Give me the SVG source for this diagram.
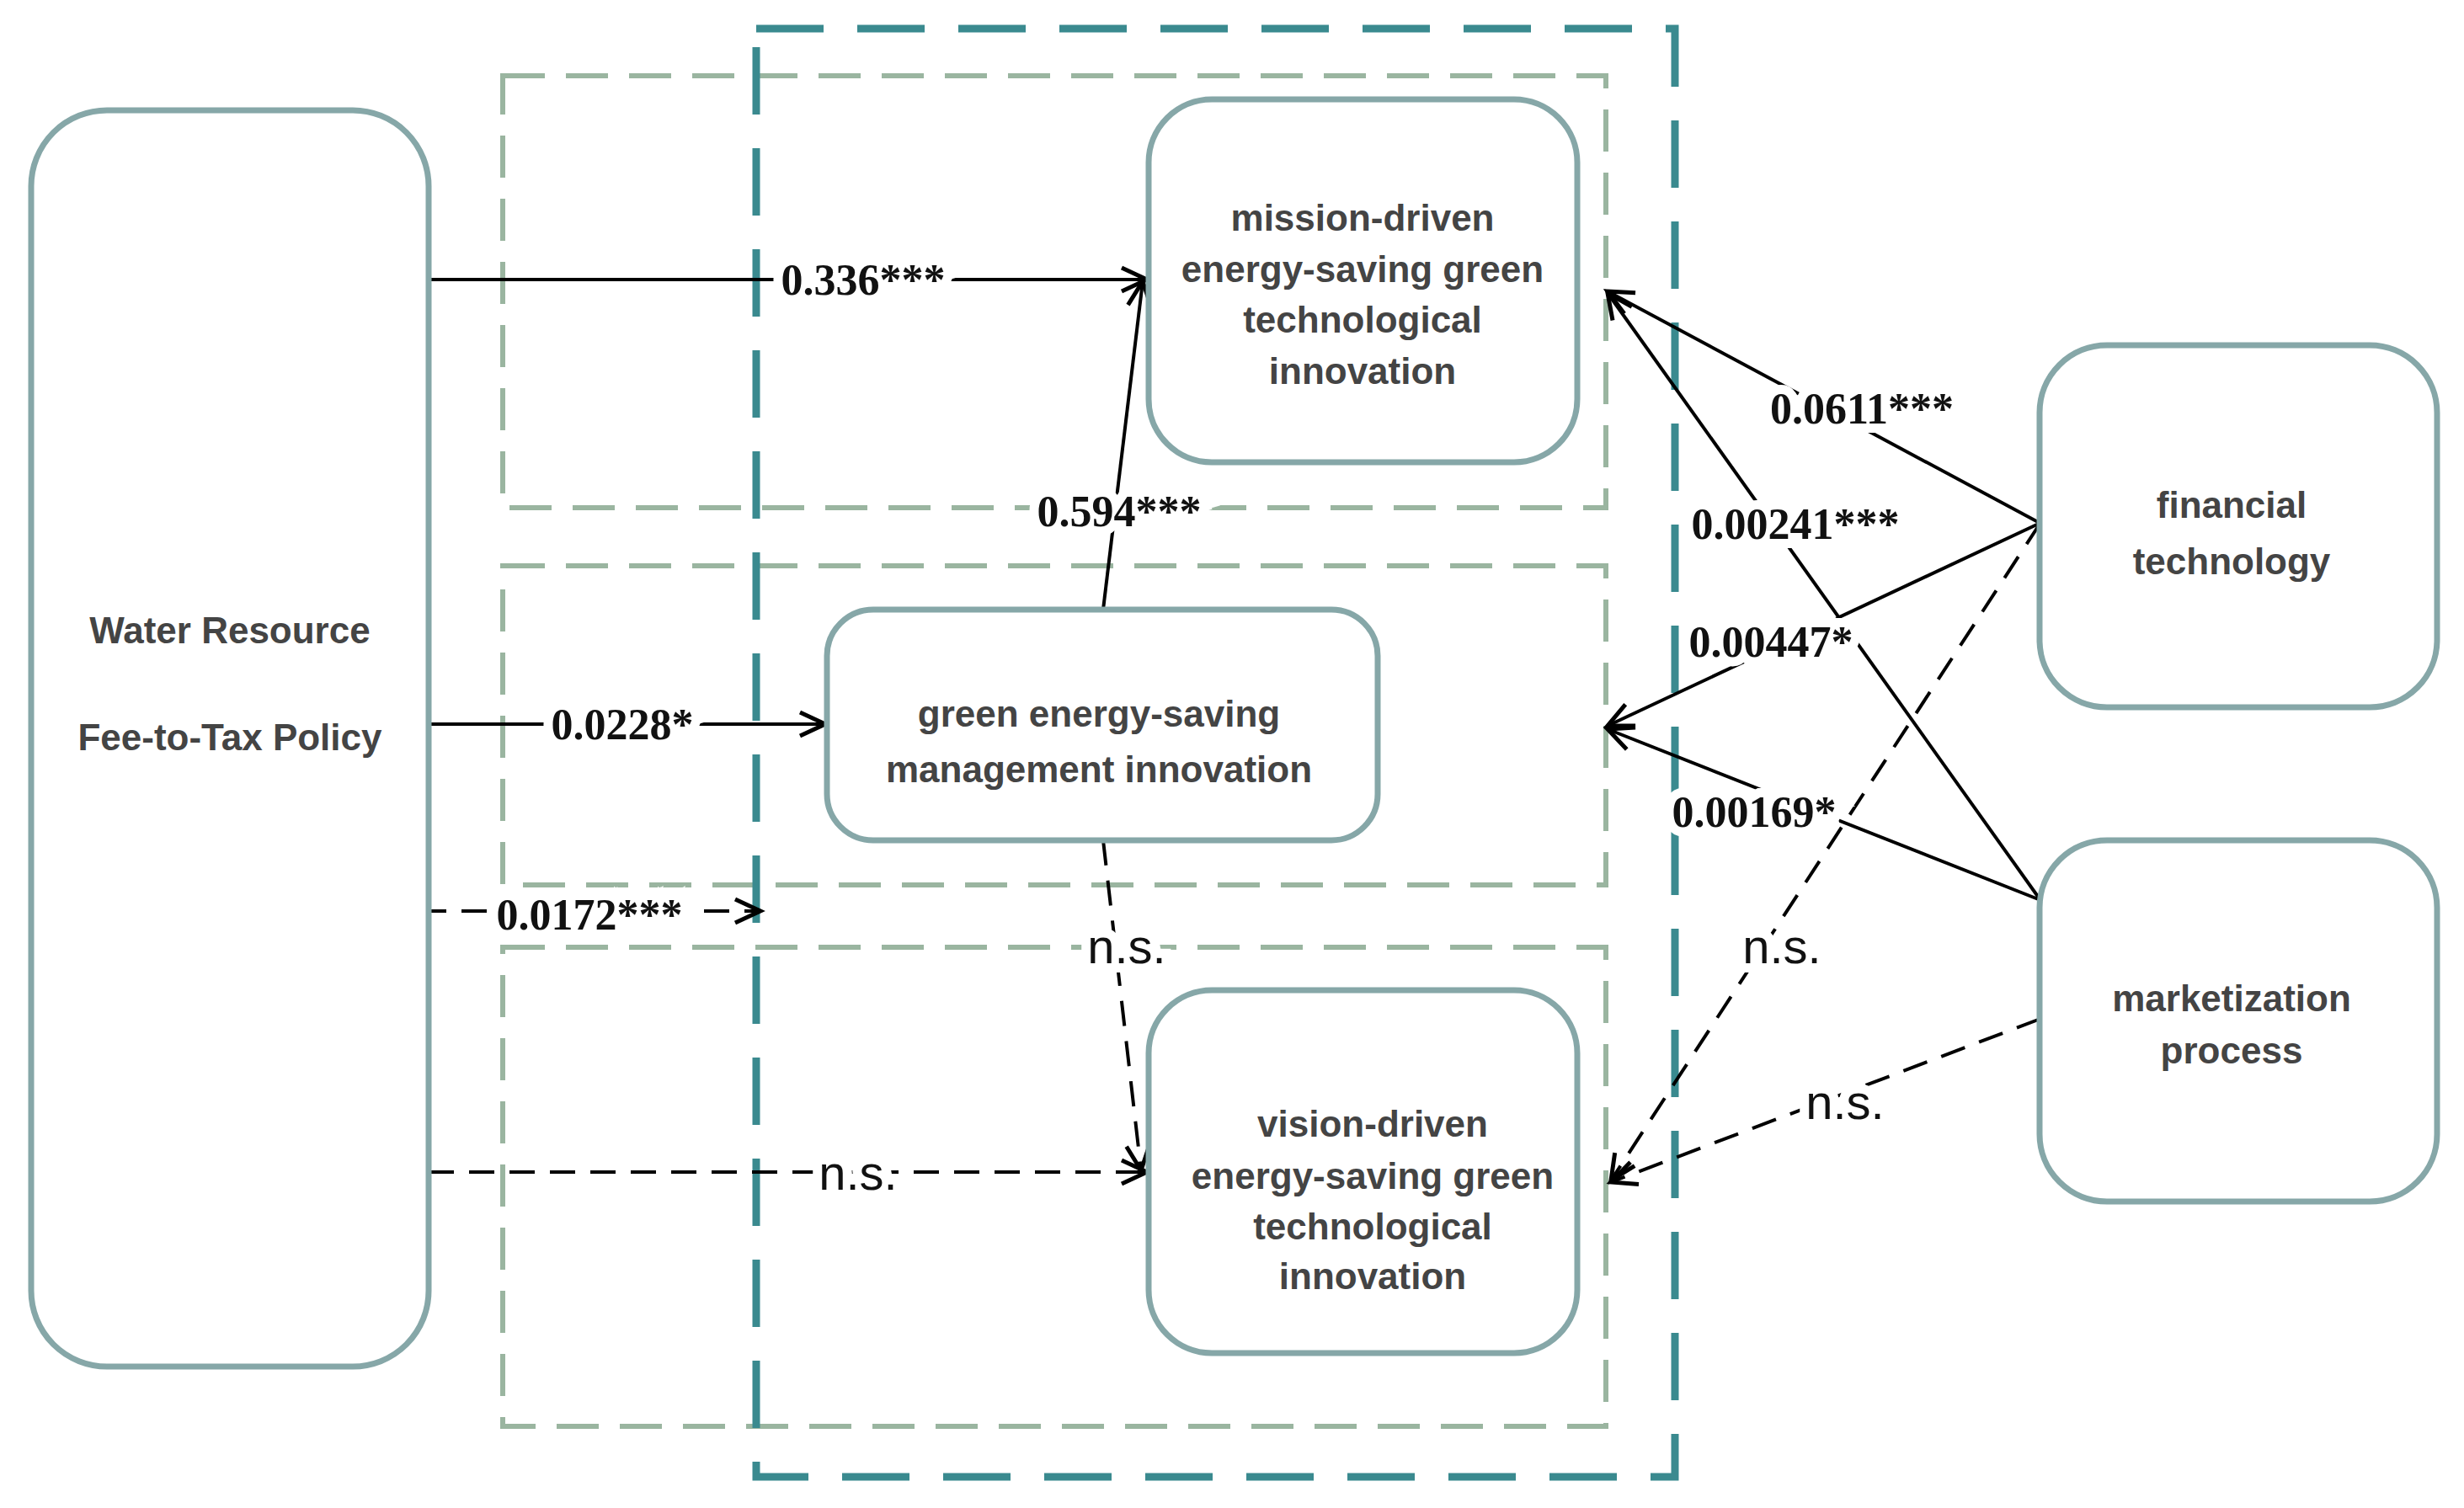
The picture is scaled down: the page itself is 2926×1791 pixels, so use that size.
<svg xmlns="http://www.w3.org/2000/svg" width="2926" height="1791" viewBox="0 0 2926 1791">
<style>
.node{fill:#fff;stroke:#86a7a8;stroke-width:7}
.nt{font-family:"Liberation Sans",Arial,sans-serif;font-weight:bold;font-size:44px;fill:#444;text-anchor:middle;dominant-baseline:central}
.ln{stroke:#000;stroke-width:4;fill:none}
.ds{stroke-dasharray:30 18}
.lb{font-family:"Liberation Serif","Times New Roman",serif;font-weight:bold;font-size:52px;fill:#111;text-anchor:middle;dominant-baseline:central;stroke:#fff;stroke-width:22;paint-order:stroke}
.ns{font-family:"Liberation Sans",Arial,sans-serif;font-size:58px;fill:#111;text-anchor:middle;dominant-baseline:central;stroke:#fff;stroke-width:22;paint-order:stroke}
.gbox{fill:none;stroke:#9ab5a0;stroke-width:6;stroke-dasharray:50 25}
</style>
<defs>
<marker id="ah" markerUnits="userSpaceOnUse" markerWidth="50" markerHeight="50" refX="40" refY="20" orient="auto">
<path d="M10,6 L40,20 L10,34" fill="none" stroke="#000" stroke-width="5"/>
</marker>
</defs>
<rect width="2926" height="1791" fill="#fff"/>
<g id="frames">
<rect class="gbox" x="597" y="90" width="1310" height="513"/>
<rect class="gbox" x="597" y="672" width="1310" height="379"/>
<rect class="gbox" x="597" y="1125" width="1310" height="569"/>
<rect x="898" y="34" width="1091" height="1720" fill="none" stroke="#3a8a8f" stroke-width="9" stroke-dasharray="80 40"/>
</g>
<g id="connectors">
<line class="ln" x1="509" y1="332" x2="1362" y2="332" marker-end="url(#ah)"/>
<line class="ln" x1="1310" y1="724" x2="1357" y2="334" marker-end="url(#ah)"/>
<line class="ln" x1="509" y1="860" x2="980" y2="860" marker-end="url(#ah)"/>
<line class="ln ds" x1="500" y1="1082" x2="903" y2="1082" marker-end="url(#ah)"/>
<line class="ln ds" x1="509" y1="1392" x2="1362" y2="1392" marker-end="url(#ah)"/>
<line class="ln ds" x1="1310" y1="998" x2="1355" y2="1390" marker-end="url(#ah)"/>
<line class="ln" x1="2422" y1="621" x2="1909" y2="346" marker-end="url(#ah)"/>
<line class="ln" x1="2423" y1="1069" x2="1909" y2="348" marker-end="url(#ah)"/>
<line class="ln" x1="2423" y1="621" x2="1909" y2="862" marker-end="url(#ah)"/>
<line class="ln" x1="2423" y1="1069" x2="1909" y2="866" marker-end="url(#ah)"/>
<line class="ln ds" x1="2423" y1="621" x2="1913" y2="1402" marker-end="url(#ah)"/>
<line class="ln ds" x1="2423" y1="1210" x2="1913" y2="1404" marker-end="url(#ah)"/>
</g>
<g id="labels">
<text class="lb" x="1025" y="332">0.336***</text>
<text class="lb" x="1329" y="607">0.594***</text>
<text class="lb" x="739" y="860">0.0228*</text>
<text class="lb" x="700" y="1086">0.0172***</text>
<text class="ns" x="1019" y="1392">n.s.</text>
<text class="ns" x="1338" y="1123">n.s.</text>
<text class="lb" x="2211" y="485">0.0611***</text>
<text class="lb" x="2132" y="622">0.00241***</text>
<text class="lb" x="2103" y="762">0.00447*</text>
<text class="lb" x="2083" y="964">0.00169*</text>
<text class="ns" x="2116" y="1123">n.s.</text>
<text class="ns" x="2191" y="1308">n.s.</text>
</g>
<g id="n-water"><rect class="node" x="37" y="131" width="472" height="1492" rx="90"/>
<text class="nt" x="273" y="748">Water Resource</text><text class="nt" x="273" y="875">Fee-to-Tax Policy</text></g>
<g id="n-mission"><rect class="node" x="1364" y="118" width="509" height="431" rx="75"/>
<text class="nt" x="1618" y="258">mission-driven</text><text class="nt" x="1618" y="319">energy-saving green</text><text class="nt" x="1618" y="379">technological</text><text class="nt" x="1618" y="440">innovation</text></g>
<g id="n-mgmt"><rect class="node" x="982" y="724" width="654" height="274" rx="55"/>
<text class="nt" x="1305" y="847">green energy-saving</text><text class="nt" x="1305" y="913">management innovation</text></g>
<g id="n-vision"><rect class="node" x="1364" y="1176" width="509" height="431" rx="75"/>
<text class="nt" x="1630" y="1334">vision-driven</text><text class="nt" x="1630" y="1396">energy-saving green</text><text class="nt" x="1630" y="1456">technological</text><text class="nt" x="1630" y="1515">innovation</text></g>
<g id="n-fin"><rect class="node" x="2422" y="410" width="472" height="430" rx="80"/>
<text class="nt" x="2650" y="599">financial</text><text class="nt" x="2650" y="666">technology</text></g>
<g id="n-market"><rect class="node" x="2422" y="998" width="472" height="429" rx="80"/>
<text class="nt" x="2650" y="1185">marketization</text><text class="nt" x="2650" y="1247">process</text></g>
</svg>
